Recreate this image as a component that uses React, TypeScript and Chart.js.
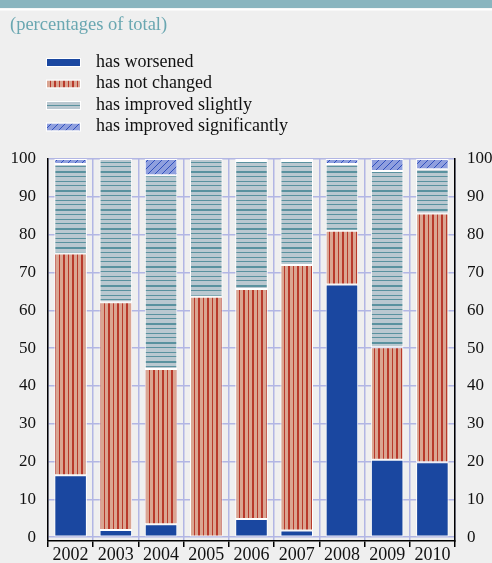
import React, { useEffect, useRef } from 'react';
import { Chart, registerables } from 'chart.js';

Chart.register(...registerables);

const years = ['2002', '2003', '2004', '2005', '2006', '2007', '2008', '2009', '2010'];
const hasWorsened = [16.4, 1.9, 3.4, 0, 4.8, 1.8, 66.8, 20.5, 19.8];
const hasNotChanged = [58.6, 60.2, 41.1, 63.6, 60.8, 70.2, 14.2, 29.7, 65.8];
const hasImprovedSlightly = [23.7, 37.9, 51.2, 36.4, 33.9, 27.5, 17.7, 46.6, 11.7];
const hasImprovedSignificantly = [1.3, 0, 4.3, 0, 0.5, 0.5, 1.3, 3.2, 2.7];
const seriesLabels = ['has worsened', 'has not changed', 'has improved slightly', 'has improved significantly'];
const yTickValues = [0, 10, 20, 30, 40, 50, 60, 70, 80, 90, 100];
const titleText = '(percentages of total)';

function makePattern(kind: string): CanvasPattern | string {
  const c = document.createElement('canvas');
  const ctx = c.getContext('2d');
  if (!ctx) return '#888';
  if (kind === 'vertical') {
    c.width = 9; c.height = 4;
    ctx.fillStyle = '#daa592';
    ctx.fillRect(0, 0, 9, 4);
    ctx.fillStyle = '#b8392b';
    ctx.fillRect(0, 0, 2, 4);
    ctx.fillRect(5, 0, 1, 4);
  } else if (kind === 'horizontal') {
    c.width = 4; c.height = 19;
    ctx.fillStyle = '#bac8d0';
    ctx.fillRect(0, 0, 4, 19);
    ctx.fillStyle = '#5a929f';
    ctx.fillRect(0, 0, 4, 2);
    ctx.fillRect(0, 5, 4, 1);
    ctx.fillRect(0, 10, 4, 1);
    ctx.fillRect(0, 14, 4, 1);
  } else {
    c.width = 7; c.height = 7;
    ctx.fillStyle = '#8f9fde';
    ctx.fillRect(0, 0, 7, 7);
    ctx.strokeStyle = '#3050bd';
    ctx.lineWidth = 1;
    ctx.beginPath();
    ctx.moveTo(-1, 8); ctx.lineTo(8, -1);
    ctx.moveTo(-2, 2); ctx.lineTo(2, -2);
    ctx.moveTo(5, 9); ctx.lineTo(9, 5);
    ctx.stroke();
  }
  return ctx.createPattern(c, 'repeat') || '#888';
}

const decorPlugin = {
  id: 'decor',
  beforeDraw(chart: any) {
    const { ctx, width, height } = chart;
    ctx.save();
    ctx.fillStyle = '#efefef';
    ctx.fillRect(0, 0, width, height);
    ctx.fillStyle = '#8ab5bf';
    ctx.fillRect(0, 0, width, 8);
    ctx.fillStyle = '#ffffff';
    ctx.fillRect(0, 8.5, width, 2);
    ctx.font = '18.5px "Liberation Serif", serif';
    ctx.fillStyle = '#6aa7b1';
    ctx.textBaseline = 'alphabetic';
    ctx.textAlign = 'left';
    ctx.fillText(titleText, 10, 30);
    const baselines = [66.5, 88, 109.5, 131];
    chart.data.datasets.forEach((ds: any, i: number) => {
      const b = baselines[i];
      ctx.fillStyle = ds.backgroundColor;
      ctx.fillRect(47, b - 7.5, 33, 7);
      ctx.strokeStyle = '#ffffff';
      ctx.lineWidth = 1;
      ctx.strokeRect(46.5, b - 8, 34, 8);
      ctx.fillStyle = '#111111';
      ctx.font = '18px "Liberation Serif", serif';
      ctx.fillText(ds.label, 96, b);
    });
    ctx.restore();
  },
};

export default function App() {
  const ref = useRef<HTMLCanvasElement | null>(null);
  useEffect(() => {
    if (!ref.current) return;
    const tickFont = { family: '"Liberation Serif", serif', size: 17, lineHeight: 1 };
    const grid = '#b2b6e4';
    const chart = new Chart(ref.current, {
      type: 'bar',
      data: {
        labels: years,
        datasets: [
          { label: seriesLabels[0], data: hasWorsened, backgroundColor: '#1a47a0' },
          { label: seriesLabels[1], data: hasNotChanged, backgroundColor: makePattern('vertical') as any },
          { label: seriesLabels[2], data: hasImprovedSlightly, backgroundColor: makePattern('horizontal') as any },
          { label: seriesLabels[3], data: hasImprovedSignificantly, backgroundColor: makePattern('diagonal') as any },
        ].map((d) => ({
          ...d,
          borderColor: '#ffffff',
          borderWidth: 1,
          borderSkipped: false,
          barPercentage: 0.72,
          categoryPercentage: 1,
          yAxisID: 'y',
        })),
      },
      options: {
        responsive: false,
        animation: false,
        layout: { padding: { top: 159, left: 0, right: 0, bottom: 0 } },
        plugins: { legend: { display: false }, title: { display: false }, tooltip: { enabled: false } },
        scales: {
          x: {
            stacked: true,
            offset: true,
            grid: { color: grid, lineWidth: 1.5, offset: true, tickColor: '#000', tickLength: 6, tickWidth: 1.5 },
            border: { display: true, color: '#000', width: 1.5 },
            ticks: { color: '#111', font: { ...tickFont, size: 18 }, padding: -1, maxRotation: 0 },
            afterFit: (s: any) => { s.height = 22; },
          },
          y: {
            stacked: true,
            position: 'left',
            min: -1,
            max: 100,
            afterBuildTicks: (s: any) => { s.ticks = yTickValues.map((v) => ({ value: v })); },
            grid: { color: grid, lineWidth: 1.5, drawTicks: false },
            border: { display: true, color: '#000', width: 1.5 },
            ticks: { color: '#111', font: tickFont, padding: 12 },
            afterFit: (s: any) => { s.width = 48; },
          },
          y2: {
            position: 'right',
            min: -1,
            max: 100,
            afterBuildTicks: (s: any) => { s.ticks = yTickValues.map((v) => ({ value: v })); },
            grid: { display: true, drawOnChartArea: false, drawTicks: false },
            border: { display: true, color: '#000', width: 1.5 },
            ticks: { color: '#111', font: tickFont, padding: 12 },
            afterFit: (s: any) => { s.width = 37; },
          },
        },
      } as any,
      plugins: [decorPlugin],
    });
    return () => chart.destroy();
  }, []);
  return (
    <div style={{ position: 'fixed', left: 0, top: 0, width: 492, height: 563 }}>
      <canvas ref={ref} width={492} height={563} style={{ display: 'block' }} />
    </div>
  );
}
